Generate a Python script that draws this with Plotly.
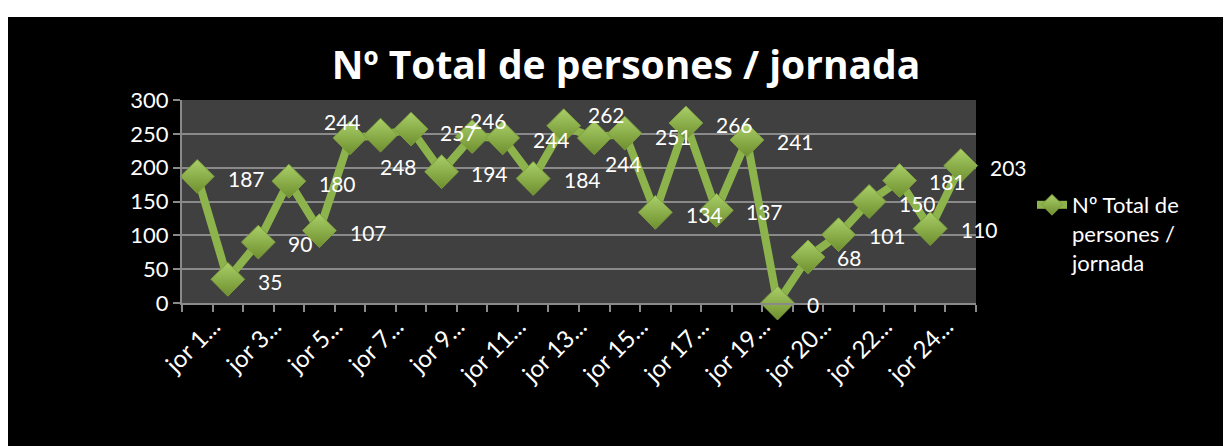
import plotly.graph_objects as go

# ---- data ----
jornada_idx = list(range(1, 27))
persones = [187, 35, 90, 180, 107, 244, 248, 257, 194, 246, 244, 184, 262,
            244, 251, 134, 266, 137, 241, 0, 68, 101, 150, 181, 110, 203]
tick_positions = [1, 3, 5, 7, 9, 11, 13, 15, 17, 19, 21, 23, 25]
tick_labels = ["jor 1...", "jor 3...", "jor 5...", "jor 7...", "jor 9...",
               "jor 11...", "jor 13...", "jor 15...", "jor 17...", "jor 19...",
               "jor 20...", "jor 22...", "jor 24..."]
y_ticks = [0, 50, 100, 150, 200, 250, 300]
series_name = "Nº Total de<br>persones /<br>jornada"
title_text = "Nº Total de persones / jornada"

# label offsets (px) for data labels
lab_dx = [49, 42, 42, 49, 49, -7, 18, 47, 48, 16, 49, 49, 43, 29, 49, 49, 49, 48, 49, 35, 41, 49, 48, 48, 49, 48]
lab_dy = [-2, -2, -1, -2, -2, 16, -31, -3, -2, 16, -2, -1, 11, -26, -3, -2, -1, -1, -2, -1, -1, -1, -2, -1, -1, -2]

OFF = 8  # page body margin
W, H = 1231 - OFF, 446 - OFF
L, T = 182 - OFF, 100 - OFF
R = W - (976 - OFF)
B = H - (303 - OFF)
pw, ph = W - L - R, H - T - B


def px_x(xpage):
    return (xpage - OFF - L) / pw


def px_y(ypage):
    return (H - B - (ypage - OFF)) / ph


FONT = "Lato"
GRID = "#8a8a8a"

fig = go.Figure()
fig.add_trace(go.Scatter(
    x=jornada_idx, y=persones, mode="lines+markers", name=series_name,
    line=dict(color="#8db44c", width=8),
    marker=dict(symbol="diamond", size=26, color="#a9cf68",
                gradient=dict(type="vertical", color="#6e8f2e"),
                line=dict(color="#7d9e3e", width=1)),
    cliponaxis=False,
))

annotations = []
for x, v, dx, dy in zip(jornada_idx, persones, lab_dx, lab_dy):
    annotations.append(dict(x=x, y=v, xref="x", yref="y", text=str(v),
                            showarrow=False, xshift=dx, yshift=dy,
                            font=dict(family=FONT, size=21, color="white"),
                            xanchor="center", yanchor="middle"))

shapes = [
    dict(type="rect", xref="paper", yref="paper", layer="above",
         x0=px_x(0), x1=px_x(1240), y0=px_y(17), y1=px_y(0),
         fillcolor="white", line=dict(width=0)),
]

fig.update_layout(
    width=W, height=H,
    margin=dict(l=L, r=R, t=T, b=B),
    paper_bgcolor="black", plot_bgcolor="#404040",
    title=dict(text="<b>" + title_text + "</b>", x=px_x(626), xanchor="center",
               y=1 - (65 - OFF) / H, yanchor="middle", xref="paper",
               font=dict(family="Open Sans", size=39, color="white")),
    font=dict(family=FONT, color="white"),
    showlegend=True,
    legend=dict(x=px_x(1032), y=px_y(184), xanchor="left", yanchor="top",
                valign="top", tracegroupgap=0,
                font=dict(family=FONT, size=22, color="white"),
                bgcolor="rgba(0,0,0,0)"),
    annotations=annotations, shapes=shapes,
    xaxis=dict(range=[0.5, 26.5], showgrid=False, zeroline=False,
               showline=True, linecolor=GRID, linewidth=2,
               tickmode="array", tickvals=tick_positions, ticktext=tick_labels,
               ticks="", tickangle=-45, ticklabelshift=16, ticklabelstandoff=-2,
               tickfont=dict(family=FONT, size=24, color="white"),
               minor=dict(tickmode="array",
                          tickvals=[i + 0.5 for i in range(0, 27)],
                          ticks="outside", ticklen=7, tickcolor=GRID,
                          tickwidth=2, showgrid=False)),
    yaxis=dict(range=[0, 300], tickmode="array", tickvals=y_ticks,
               showgrid=True, gridcolor=GRID, gridwidth=2, zeroline=False,
               showline=True, linecolor=GRID, linewidth=2,
               ticks="outside", ticklen=7, tickcolor=GRID, tickwidth=2,
               tickfont=dict(family=FONT, size=22, color="white")),
)

fig.write_html("out.html")
